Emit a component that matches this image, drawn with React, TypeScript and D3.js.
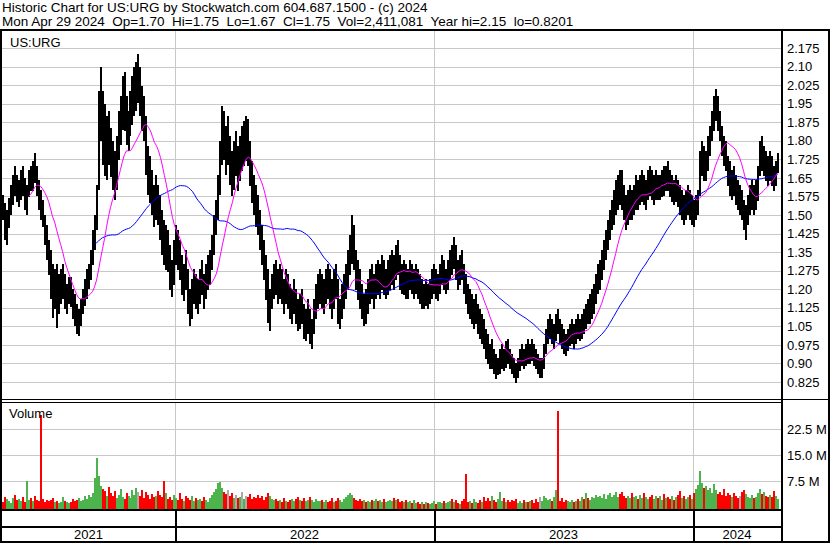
import React from "react";
import * as d3 from "d3";

const W = 830;
const H = 543;
const FONT = '"Liberation Sans", Arial, sans-serif';

const header1 = "Historic Chart for US:URG by Stockwatch.com 604.687.1500 - (c) 2024";
const header2 = "Mon Apr 29 2024  Op=1.70  Hi=1.75  Lo=1.67  Cl=1.75  Vol=2,411,081  Year hi=2.15  lo=0.8201";
const symbolLabel = "US:URG";
const volumeLabel = "Volume";

const priceTicks = [2.175, 2.1, 2.025, 1.95, 1.875, 1.8, 1.725, 1.65, 1.575, 1.5, 1.425, 1.35, 1.275, 1.2, 1.125, 1.05, 0.975, 0.9, 0.825];
const priceTickLabels = ["2.175", "2.10", "2.025", "1.95", "1.875", "1.80", "1.725", "1.65", "1.575", "1.50", "1.425", "1.35", "1.275", "1.20", "1.125", "1.05", "0.975", "0.90", "0.825"];
const volumeTicks = [7.5, 15, 22.5];
const volumeTickLabels = ["7.5 M", "15.0 M", "22.5 M"];

const startDate = new Date(2021, 3, 29);
const endDate = new Date(2024, 3, 29);
const fastWindow = 15;
const slowWindow = 48;

// one bar per ~2 trading days
const highs = [
  1.56,1.58,1.55,1.52,1.57, 1.62,1.66,1.70,1.66,1.64, 1.68,1.70,1.65,1.62,1.68, 1.70,1.72,1.75,1.70,1.64,
  1.60,1.56,1.50,1.46,1.40, 1.36,1.30,1.28,1.30,1.26, 1.28,1.30,1.26,1.22,1.25, 1.25,1.20,1.18,1.14,1.12,
  1.16,1.20,1.24,1.28,1.30, 1.36,1.44,1.50,1.62,2.00, 2.10,2.00,1.95,1.90,1.92, 1.85,1.80,1.76,1.82,1.92,
  1.98,2.06,2.08,1.98,1.92, 2.00,2.06,2.10,2.12,2.15, 2.10,2.02,1.98,1.90,1.78, 1.74,1.68,1.62,1.66,1.62,
  1.58,1.52,1.48,1.46,1.44, 1.38,1.32,1.40,1.46,1.44, 1.40,1.34,1.30,1.36,1.28, 1.20,1.24,1.28,1.26,1.24,
  1.28,1.32,1.26,1.30,1.34, 1.36,1.42,1.50,1.56,1.66, 1.80,1.94,1.92,1.86,1.90, 1.82,1.76,1.80,1.84,1.78,
  1.82,1.86,1.88,1.90,1.89, 1.80,1.72,1.66,1.62,1.58, 1.52,1.46,1.40,1.34,1.28, 1.20,1.26,1.30,1.32,1.28,
  1.30,1.28,1.24,1.28,1.26, 1.22,1.20,1.24,1.20,1.16, 1.18,1.20,1.14,1.12,1.16, 1.12,1.08,1.16,1.22,1.26,
  1.28,1.26,1.24,1.28,1.30, 1.28,1.24,1.28,1.30,1.24, 1.16,1.22,1.26,1.30,1.36, 1.42,1.50,1.46,1.36,1.32,
  1.28,1.22,1.18,1.20,1.24, 1.28,1.30,1.26,1.30,1.32, 1.30,1.34,1.32,1.28,1.32, 1.34,1.36,1.34,1.38,1.40,
  1.34,1.30,1.32,1.30,1.28, 1.32,1.30,1.28,1.30,1.28, 1.26,1.24,1.22,1.24,1.22, 1.24,1.28,1.30,1.28,1.26,
  1.30,1.34,1.32,1.28,1.32, 1.36,1.38,1.41,1.38,1.32, 1.34,1.36,1.30,1.26,1.22, 1.20,1.18,1.16,1.18,1.14,
  1.12,1.10,1.08,1.04,1.02, 0.98,1.00,0.96,0.94,0.92, 0.96,0.98,0.96,0.99,1.00, 0.96,0.94,0.92,0.90,0.92,
  0.96,0.98,0.96,0.98,1.00, 0.98,1.00,0.98,0.96,0.94, 0.92,0.92,0.98,1.04,1.08, 1.10,1.08,1.06,1.10,1.12,
  1.08,1.06,1.04,1.02,1.04, 1.06,1.08,1.06,1.08,1.10, 1.08,1.10,1.12,1.14,1.16, 1.18,1.20,1.22,1.26,1.30,
  1.32,1.36,1.40,1.44,1.48, 1.52,1.56,1.60,1.64,1.66, 1.68,1.68,1.62,1.58,1.60, 1.62,1.60,1.62,1.66,1.64,
  1.66,1.68,1.66,1.64,1.68, 1.70,1.68,1.66,1.68,1.66, 1.66,1.68,1.70,1.70,1.72, 1.68,1.66,1.64,1.66,1.64,
  1.62,1.60,1.58,1.60,1.62, 1.60,1.58,1.56,1.58,1.60, 1.76,1.80,1.78,1.76,1.82, 1.86,1.92,1.98,2.01,1.98,
  1.92,1.86,1.82,1.80,1.74, 1.72,1.68,1.70,1.66,1.64, 1.62,1.60,1.56,1.54,1.58, 1.62,1.64,1.62,1.64,1.70,
  1.80,1.82,1.78,1.76,1.74, 1.76,1.74,1.70,1.72,1.75,
];

const lows = [
  1.47,1.48,1.40,1.38,1.45, 1.50,1.54,1.58,1.55,1.53, 1.56,1.58,1.52,1.50,1.57, 1.60,1.60,1.63,1.58,1.52,
  1.48,1.45,1.38,1.32,1.26, 1.16,1.08,1.12,1.04,1.10, 1.14,1.16,1.12,1.10,1.14, 1.13,1.08,1.05,1.02,1.01,
  1.05,1.10,1.13,1.16,1.20, 1.24,1.30,1.36,1.44,1.60, 1.80,1.70,1.66,1.64,1.70, 1.65,1.60,1.56,1.60,1.72,
  1.78,1.84,1.84,1.78,1.76, 1.82,1.86,1.90,1.92,1.95, 1.90,1.84,1.80,1.66,1.58, 1.55,1.50,1.45,1.48,1.46,
  1.40,1.34,1.30,1.28,1.27, 1.20,1.17,1.22,1.30,1.28, 1.24,1.18,1.15,1.20,1.10, 1.05,1.08,1.14,1.12,1.10,
  1.14,1.18,1.12,1.16,1.20, 1.22,1.28,1.34,1.42,1.48, 1.58,1.70,1.72,1.66,1.70, 1.62,1.58,1.60,1.66,1.60,
  1.64,1.68,1.70,1.72,1.70, 1.62,1.55,1.50,1.45,1.42, 1.36,1.30,1.24,1.16,1.06, 1.03,1.12,1.16,1.18,1.14,
  1.16,1.14,1.10,1.14,1.12, 1.08,1.06,1.10,1.06,1.03, 1.04,1.06,1.00,0.99,1.02, 0.98,0.96,1.02,1.08,1.12,
  1.14,1.12,1.10,1.14,1.16, 1.12,1.08,1.12,1.16,1.06, 1.04,1.08,1.12,1.16,1.20, 1.26,1.30,1.28,1.20,1.16,
  1.12,1.08,1.05,1.06,1.10, 1.14,1.16,1.12,1.16,1.18, 1.16,1.20,1.18,1.16,1.18, 1.20,1.22,1.20,1.24,1.26,
  1.20,1.18,1.18,1.16,1.16, 1.20,1.18,1.16,1.18,1.16, 1.14,1.12,1.12,1.13,1.12, 1.14,1.16,1.18,1.16,1.15,
  1.18,1.22,1.20,1.18,1.20, 1.24,1.26,1.28,1.24,1.20, 1.22,1.24,1.18,1.14,1.10, 1.08,1.06,1.04,1.06,1.02,
  1.00,0.98,0.96,0.92,0.90, 0.88,0.88,0.86,0.84,0.85, 0.86,0.88,0.87,0.88,0.90, 0.88,0.86,0.84,0.82,0.84,
  0.87,0.89,0.88,0.89,0.90, 0.90,0.91,0.89,0.88,0.86, 0.84,0.84,0.88,0.94,0.98, 1.00,0.98,0.96,0.99,1.02,
  0.98,0.96,0.94,0.93,0.95, 0.97,0.98,0.96,0.98,1.00, 0.99,1.00,1.02,1.04,1.06, 1.06,1.08,1.10,1.14,1.18,
  1.20,1.24,1.28,1.32,1.36, 1.40,1.44,1.46,1.50,1.52, 1.54,1.52,1.48,1.44,1.46, 1.48,1.48,1.50,1.52,1.52,
  1.54,1.55,1.54,1.52,1.56, 1.58,1.56,1.54,1.56,1.56, 1.56,1.57,1.58,1.60,1.60, 1.57,1.55,1.54,1.55,1.53,
  1.50,1.48,1.46,1.48,1.50, 1.48,1.46,1.45,1.48,1.50, 1.58,1.66,1.64,1.64,1.68, 1.74,1.80,1.84,1.88,1.84,
  1.80,1.74,1.70,1.68,1.62, 1.58,1.56,1.58,1.54,1.52, 1.50,1.48,1.44,1.40,1.46, 1.50,1.52,1.50,1.52,1.56,
  1.66,1.68,1.66,1.64,1.62, 1.64,1.62,1.60,1.62,1.67,
];

const closes = [
  1.52,1.50,1.45,1.48,1.55, 1.58,1.63,1.62,1.60,1.62, 1.65,1.62,1.55,1.60,1.66, 1.64,1.70,1.68,1.60,1.55,
  1.52,1.47,1.42,1.35,1.30, 1.20,1.15,1.24,1.12,1.20, 1.22,1.26,1.16,1.18,1.20, 1.18,1.12,1.10,1.06,1.08,
  1.14,1.18,1.20,1.25,1.28, 1.33,1.40,1.45,1.58,1.82, 1.85,1.74,1.70,1.76,1.74, 1.68,1.64,1.60,1.70,1.78,
  1.82,1.90,1.86,1.80,1.82, 1.86,1.92,1.94,1.98,1.98, 1.92,1.86,1.82,1.72,1.62, 1.60,1.56,1.50,1.60,1.52,
  1.45,1.40,1.36,1.42,1.32, 1.25,1.22,1.35,1.40,1.34, 1.30,1.22,1.26,1.24,1.14, 1.10,1.20,1.22,1.16,1.20,
  1.24,1.22,1.18,1.27,1.30, 1.33,1.40,1.46,1.52,1.62, 1.75,1.80,1.78,1.76,1.76, 1.68,1.64,1.70,1.70,1.66,
  1.74,1.74,1.78,1.78,1.75, 1.66,1.60,1.55,1.52,1.46, 1.40,1.34,1.28,1.20,1.12, 1.16,1.22,1.26,1.24,1.20,
  1.26,1.18,1.16,1.24,1.17, 1.12,1.16,1.20,1.10,1.08, 1.14,1.10,1.04,1.08,1.12, 1.02,1.04,1.12,1.18,1.20,
  1.24,1.16,1.20,1.25,1.22, 1.18,1.14,1.24,1.20,1.10, 1.12,1.18,1.22,1.26,1.32, 1.38,1.44,1.32,1.24,1.22,
  1.16,1.12,1.14,1.10,1.20, 1.24,1.20,1.22,1.28,1.24, 1.26,1.30,1.22,1.24,1.28, 1.30,1.32,1.26,1.34,1.30,
  1.28,1.24,1.28,1.22,1.24, 1.28,1.22,1.24,1.26,1.20, 1.18,1.20,1.16,1.20,1.16, 1.20,1.24,1.26,1.22,1.24,
  1.26,1.30,1.24,1.26,1.30, 1.32,1.30,1.36,1.28,1.26, 1.30,1.28,1.22,1.18,1.14, 1.16,1.10,1.12,1.14,1.06,
  1.04,1.06,1.00,0.96,0.95, 0.92,0.96,0.90,0.88,0.90, 0.92,0.94,0.90,0.96,0.94, 0.92,0.88,0.87,0.86,0.90,
  0.93,0.95,0.92,0.96,0.94, 0.96,0.94,0.93,0.90,0.88, 0.88,0.90,0.96,1.00,1.04, 1.06,1.02,1.04,1.06,1.05,
  1.02,1.00,0.98,0.96,1.00, 1.02,1.04,0.99,1.06,1.04, 1.06,1.08,1.06,1.12,1.10, 1.14,1.16,1.20,1.24,1.26,
  1.30,1.34,1.38,1.42,1.44, 1.50,1.52,1.58,1.60,1.62, 1.60,1.56,1.52,1.50,1.56, 1.58,1.54,1.60,1.62,1.58,
  1.62,1.64,1.58,1.60,1.66, 1.64,1.60,1.62,1.64,1.60, 1.62,1.66,1.64,1.68,1.64, 1.60,1.62,1.58,1.62,1.56,
  1.54,1.56,1.50,1.56,1.58, 1.52,1.54,1.50,1.55,1.58, 1.72,1.74,1.68,1.72,1.78, 1.82,1.88,1.94,1.96,1.88,
  1.84,1.78,1.76,1.72,1.66, 1.62,1.64,1.60,1.58,1.56, 1.56,1.52,1.48,1.50,1.54, 1.58,1.60,1.56,1.62,1.66,
  1.76,1.72,1.74,1.70,1.66, 1.72,1.66,1.64,1.68,1.75,
];

// volume in millions of shares
const volumes = [
  2.1,1.5,3.0,2.4,1.8, 1.2,2.6,3.4,1.9,2.2, 1.6,2.8,1.4,7.4,2.0, 2.5,1.8,3.2,2.1,1.6,
  26.6,2.4,1.3,2.0,1.7, 1.9,2.6,1.4,1.6,1.2, 1.5,2.9,1.8,1.3,1.1, 1.4,2.2,1.6,1.9,2.5,
  1.7,2.0,3.1,2.4,3.6, 2.8,3.9,8.5,14.2,9.0, 6.1,5.2,4.6,3.2,5.8, 4.0,3.1,4.7,2.5,3.5,
  5.2,3.0,2.4,4.1,3.3, 2.7,4.8,3.6,5.4,4.2, 3.1,5.0,2.6,4.4,3.4, 2.2,3.8,2.9,3.3,4.6,
  3.5,2.8,7.6,4.1,2.4, 3.0,1.9,3.4,2.6,2.1, 3.9,2.4,1.8,3.3,2.5, 2.0,3.1,1.6,2.7,1.9,
  2.3,1.7,2.9,2.0,1.5, 2.5,3.6,4.4,5.2,6.8, 7.3,5.6,4.2,3.8,5.0, 3.2,4.1,2.7,3.5,2.6,
  3.0,4.3,2.4,3.1,2.8, 3.7,2.2,3.0,2.6,3.4, 2.5,3.2,2.1,2.8,4.0, 3.3,2.4,1.9,2.2,1.7,
  2.0,1.5,2.6,1.8,1.4, 1.9,2.4,1.6,2.2,2.9, 2.1,1.7,2.5,1.6,1.9, 2.8,2.0,1.5,2.3,1.8,
  1.6,2.1,1.4,1.9,1.3, 1.7,2.5,1.5,1.8,2.6, 1.9,1.4,2.2,2.8,3.4, 4.1,3.6,2.5,2.0,1.8,
  2.3,1.6,2.0,1.5,1.8, 1.4,2.1,1.7,2.4,1.6, 1.9,1.3,2.2,1.5,1.8, 2.0,1.6,2.7,1.9,2.3,
  1.5,1.8,1.3,2.0,1.4, 1.6,1.2,1.9,1.1,1.5, 1.0,1.4,0.9,1.3,1.1, 0.8,1.2,1.6,1.0,1.3,
  1.5,1.1,1.8,1.2,1.4, 1.7,2.3,1.3,1.9,1.2, 1.0,1.6,2.2,9.6,1.4, 1.8,1.2,2.4,1.5,1.1,
  2.0,1.4,2.9,1.7,2.5, 1.6,3.1,2.0,1.4,2.2, 4.2,1.8,2.6,1.5,1.9, 1.3,2.1,1.6,2.4,1.2,
  1.7,1.1,2.0,1.5,1.3, 1.6,1.9,1.2,2.3,1.4, 2.8,1.8,3.3,2.5,1.9, 2.2,1.6,3.0,5.0,27.7,
  1.8,2.6,1.5,2.1,1.7, 1.5,2.0,1.3,1.8,2.4, 1.7,2.9,2.2,4.0,2.6, 2.1,3.0,2.5,3.4,2.8,
  3.2,2.7,3.8,2.4,3.5, 4.1,3.0,3.6,4.3,2.9, 3.7,4.4,3.1,2.6,3.3, 2.5,3.9,2.8,3.2,2.2,
  3.6,2.7,4.0,3.0,2.4, 2.9,3.5,2.3,3.1,2.6, 3.3,2.1,3.8,2.7,3.0, 2.4,3.2,2.0,2.8,3.5,
  4.5,2.6,3.1,2.2,2.9, 3.4,2.3,4.0,5.2,6.4, 10.5,7.0,5.4,6.2,4.8, 5.6,4.1,6.5,4.9,3.8,
  4.4,3.6,5.1,3.2,4.0, 3.5,2.8,3.9,3.1,2.6, 3.3,4.2,5.0,3.7,2.9, 2.7,3.4,2.5,3.0,4.1,
  5.3,3.8,4.4,3.2,2.8, 3.6,2.9,4.7,3.1,2.4,
];

function sma(values: number[], win: number): (number | null)[] {
  return values.map((_, i) => (i < win - 1 ? null : (d3.mean(values.slice(i - win + 1, i + 1)) as number)));
}

export default function App() {
  const plotLeft = 2;
  const axisX = 781;
  const priceTop = 31;
  const priceBottom = 399;
  const volTop = 403;
  const volBottom = 509;

  const xTime = d3.scaleTime().domain([startDate, endDate]).range([-0.3, 777.5]);
  const n = closes.length;
  const xIdx = d3.scaleLinear().domain([0, n - 1]).range([xTime(startDate) + 1, xTime(endDate)]);
  const yPrice = d3.scaleLinear().domain([0.825, 2.175]).range([382, 48]);
  const yVol = d3.scaleLinear().domain([0, 7.5]).range([507, 481]);

  const yearBounds = xTime.ticks(d3.timeYear.every(1) as any).map((d) => Math.round(xTime(d)));
  const edges = [plotLeft, ...yearBounds, axisX];
  const yearLabels = edges.slice(0, -1).map((e, k) => ({
    x: (e + edges[k + 1]) / 2,
    text: String(xTime.invert(e + 1).getFullYear()),
  }));

  const fast = sma(closes, fastWindow);
  const slow = sma(closes, slowWindow);
  const maLine = d3
    .line<number | null>()
    .defined((d) => d !== null)
    .x((_, i) => xIdx(i))
    .y((d) => yPrice(d as number));

  const volColor = (i: number) => {
    if (i === 0) return "#4db34d";
    if (closes[i] > closes[i - 1]) return "#4db34d";
    if (closes[i] < closes[i - 1]) return "#ff0000";
    return "#a8a8a8";
  };

  const grid = "#c8c8c8";

  return (
    <svg
      width={W}
      height={H}
      viewBox={`0 0 ${W} ${H}`}
      style={{ position: "absolute", left: 0, top: 0, background: "#fff", fontFamily: FONT }}
    >
      <defs>
        <clipPath id="clipPrice">
          <rect x={plotLeft} y={priceTop} width={axisX - plotLeft} height={priceBottom - priceTop} />
        </clipPath>
        <clipPath id="clipVol">
          <rect x={plotLeft} y={volTop} width={axisX - plotLeft} height={volBottom - volTop} />
        </clipPath>
      </defs>
      <rect x={0} y={0} width={W} height={H} fill="#fff" />

      {/* header */}
      <text x={2} y={12} fontSize={13.5} fill="#000" style={{ whiteSpace: "pre" }}>{header1}</text>
      <text x={2} y={26} fontSize={13.5} fill="#000" style={{ whiteSpace: "pre" }}>{header2}</text>

      {/* grid */}
      {priceTicks.map((t, k) => (
        <rect key={"pg" + k} x={plotLeft} y={Math.round(yPrice(t))} width={axisX - plotLeft} height={1} fill={grid} />
      ))}
      {volumeTicks.map((t, k) => (
        <rect key={"vg" + k} x={plotLeft} y={Math.round(yVol(t))} width={axisX - plotLeft} height={1} fill={grid} />
      ))}
      {yearBounds.map((b, k) => (
        <g key={"yb" + k}>
          <rect x={b} y={priceTop} width={1} height={priceBottom - priceTop} fill={grid} />
          <rect x={b} y={volTop} width={1} height={volBottom - volTop} fill={grid} />
        </g>
      ))}

      {/* price bars */}
      <g clipPath="url(#clipPrice)">
        {closes.map((c, i) => (
          <rect
            key={"b" + i}
            x={Math.round(xIdx(i)) - 1}
            y={Math.round(yPrice(highs[i]))}
            width={2}
            height={Math.max(1, Math.round(yPrice(lows[i]) - yPrice(highs[i])))}
            fill="#000"
            shapeRendering="crispEdges"
          />
        ))}
        <path d={maLine(slow) || ""} fill="none" stroke="#0000ff" strokeWidth={1} />
        <path d={maLine(fast) || ""} fill="none" stroke="#ff00ff" strokeWidth={1} />
      </g>

      {/* volume bars */}
      <g clipPath="url(#clipVol)">
        {volumes.map((v, i) => (
          <rect
            key={"v" + i}
            x={Math.round(xIdx(i)) - 1}
            y={yVol(v)}
            width={2}
            height={volBottom - yVol(v)}
            fill={volColor(i)}
            shapeRendering="crispEdges"
          />
        ))}
      </g>

      <text x={10} y={47} fontSize={13} fill="#000">{symbolLabel}</text>
      <text x={9} y={418} fontSize={13} fill="#000">{volumeLabel}</text>

      {/* right axis labels */}
      {priceTicks.map((t, k) => (
        <text key={"pl" + k} x={787} y={yPrice(t) + 4.7} fontSize={13} fill="#000">{priceTickLabels[k]}</text>
      ))}
      {volumeTicks.map((t, k) => (
        <text key={"vl" + k} x={787} y={yVol(t) + 4.7} fontSize={13} fill="#000">{volumeTickLabels[k]}</text>
      ))}

      {/* frame */}
      <g fill="#000" shapeRendering="crispEdges">
        <rect x={0} y={29} width={W} height={2} />
        <rect x={0} y={29} width={2} height={H - 29} />
        <rect x={axisX} y={29} width={2} height={H - 29} />
        <rect x={W - 2} y={29} width={2} height={H - 29} />
        <rect x={0} y={399} width={W} height={1} />
        <rect x={0} y={402} width={axisX} height={1} />
        <rect x={0} y={volBottom} width={axisX} height={2} />
        <rect x={0} y={526} width={axisX} height={2} />
        <rect x={0} y={H - 2} width={W} height={2} />
        {yearBounds.map((b, k) => (
          <rect key={"ab" + k} x={b} y={volBottom} width={1.5} height={H - volBottom} />
        ))}
      </g>

      {/* year labels */}
      {yearLabels.map((l, k) => (
        <text key={"yl" + k} x={l.x} y={539} fontSize={13} fill="#000" textAnchor="middle">{l.text}</text>
      ))}
    </svg>
  );
}
